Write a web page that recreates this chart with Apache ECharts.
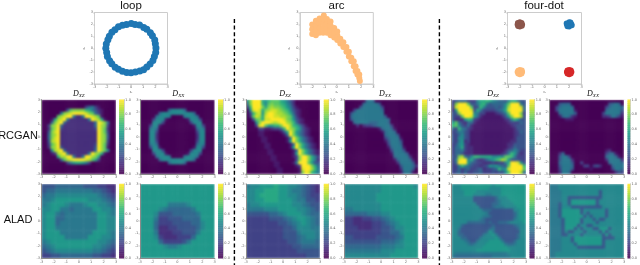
<!DOCTYPE html>
<html><head><meta charset="utf-8">
<style>html,body{margin:0;padding:0;background:#fff}#c{width:640px;height:265px}
#c canvas{filter:blur(0.4px)}#c canvas:first-child{filter:blur(1.1px)}</style>
<script src="https://cdn.jsdelivr.net/npm/echarts@6/dist/echarts.min.js"></script>
</head><body><div id="c"></div>
<script>
// ---- scatter data
const ringPoints=[[2.05,.02],[2.0,.37],[1.95,.7],[1.76,1.04],[1.59,1.3],[1.3,1.6],[1.05,1.75],[.7,1.95],[.34,2.0],[.02,2.08],[-.37,2.0],[-.7,1.92],[-1.03,1.8],[-1.32,1.55],[-1.57,1.34],[-1.78,1.0],[-1.9,.72],[-2.03,.35],[-2.07,0],[-2.0,-.36],[-1.94,-.7],[-1.76,-1.04],[-1.58,-1.3],[-1.3,-1.59],[-1.03,-1.76],[-.7,-1.94],[-.35,-2.03],[0,-2.05],[.36,-2.0],[.72,-1.9],[1.03,-1.8],[1.3,-1.58],[1.57,-1.32],[1.8,-1.02],[1.92,-.7],[2.03,-.36]];
const arcPoints=[[-2,1.2],[-2,1.6],[-2,2],[-1.7,1.1],[-1.7,1.5],[-1.7,1.9],[-1.7,2.3],[-1.4,1.3],[-1.4,1.7],[-1.4,2.1],[-1.4,2.5],[-1.1,1.3],[-1.1,1.7],[-1.1,2.1],[-1.1,2.5],[-1.05,2.75],[-.8,1.3],[-.8,1.7],[-.8,2.1],[-.8,2.45],[-.5,1.1],[-.5,1.5],[-.5,1.9],[-.5,2.25],[-.2,.9],[-.2,1.3],[-.2,1.7],[.05,.7],[.05,1.1],[.05,1.4],[.3,.4],[.3,.8],[.55,.1],[.55,.5],[.8,-.3],[.8,.1],[1,-.7],[1,-.3],[1.2,-1.1],[1.2,-.8],[1.4,-1.5],[1.4,-1.1],[1.55,-1.9],[1.55,-1.5],[1.7,-2.2],[1.7,-1.9],[1.85,-2.5],[1.85,-2.2],[1.9,-2.75]];
const dotBlue=[[2,2],[1.8,2],[2.2,2.02],[2,1.8],[2,2.2],[1.78,2.1],[2.22,1.9],[1.85,1.82],[2.12,2.18]];
const dotBrown=[[-2,2],[-2.2,2],[-1.8,2],[-2,2.2],[-2,1.8],[-2.17,2.14],[-1.83,1.86],[-2.15,1.85],[-1.85,2.15]];
const dotPeach=[[-2,-2],[-2.2,-2],[-1.8,-2],[-2,-2.2],[-2,-1.8],[-2.14,-2.14],[-1.83,-1.85],[-2.14,-1.86],[-1.85,-2.15]];
const dotRed=[[2,-2],[1.8,-2],[2.2,-2],[2,-2.2],[2,-1.8],[1.85,-2.15],[2.15,-1.85],[1.85,-1.85],[2.14,-2.15]];

// ---- heat maps: hex digits = level/15, top row is y=+3
const loopRcganXZ=["000000000000000000000000","000000000000000000000000","000000000000003563100000","000000004bcccca964210000","0000006cdeffffecb5310000","00000bdeff6226ffedb10000","00019def62222226fed91000","0005cef52222222225fec500","003cdf522222222225fdc300","002bdf322222222223fdb200","004cef222222222222fdb300","005cdf222222222222fdc400","005cef222222222222fdc400","004def222222222222fdc300","003bdf222222222223fdb200","002cdf422222222224fdb100","0007def52222222225fdb600","00013def62222226fdc91000","000009ddff6226ffdc900000","0000005bdeffffedb9300000","000000003689986300000000","000000000000000000000000","000000000000000000000000","000000000000000000000000"];
const loopRcganXX=["000000000000000000000000","000000000000000000000000","000000000000000000000000","000000000577775000000000","000000577777777775000000","000005777600006777500000","000037771000000177730000","000077730000000037770000","000377100000000001773000","000675000000000000576000","000773000000000000377000","000772000000000000277000","000772000000000000277000","000773000000000000377000","000675000000000000576000","000377100000000001773000","000077730000000037770000","000037771000000177730000","000005777600006777500000","000000577777777775000000","000000000577775000000000","000000000000000000000000","000000000000000000000000","000000000000000000000000"];
const arcRcganXZ=["7cfff98abbb9864200000000","5cfffa7bcbba975200000000","2afffc9cdccba86310000000","07efe9cdeedcba7421000000","03ade8dffeddcb9521000000","02bed9effeeddcb731000000","004bc9eeffffecb842100000","0007cfffedeffdca52100000","0003efb88aacffda96310000","000033112335afdca8421000","00001100000149fc86421000","00001100000015fc96421000","000001100000016fc9642100","000001100000018fc9642100","000000110000001 5fc964210".replace(" ",""),"000000110000 0018fc964210".replace(" ",""),"00000001100000015fc96421","00000001100000018fc96421","00000000110000013cffc963","00000000110000003cffc962","00000000011000016fffb84".padEnd(24,"4"),"000000000110000013fffc95","000000000011000001effda6","000000000011000001cfea86"];
const arcRcganXX=["000000056500000000000000","000000566664000000000000","000004666666300000000000","000366666666500000000000","004666666666600000000000","005666666666640000000000","004666666666665000000000","000566665556665000000000","000020233456666300000000","000000000001566510000000","000000000000156650000000","000000000000056664000000","000000000000035666100000","000000000000014666400000","000000000000003666500000","000000000000001566610000","000000000000000366640000","000000000000000166664000","000000000000000056666200","000000000000000015666510","000000000000000002666640","000000000000000000466652","000000000000000000266640","000000000000000000156510"];
const fourRcganXZ=["34555333799a976554799644","3cfffb4469a6455557bfff64","3effffb34a74445458dfffe5","28ffffe49633334569effff5","44cffff76331112346bfffc3","433bffe852111111248cffd4","42228a93211111111237a844","8b5325521111111111233354","ab7435211111111111123444","53a653211111111111112444","346643111111111111112354","435743111111111111112344","437743111111111111112444","436823111111111111122444","347832111111111111224444","356932211111111111235444","355632211111111112457533","3554222111111111236a8423","44cd647aa99997787bba6333","36eff795323578abdc844433","35fff85433222323369ffe84","336a75433234878654bffffa","335345334523345a78effffb","345353344533343447bfffd5"];
const fourRcganXX=["000000000000000000000000","000455500000000000045650","003566650000000000356665","003666661000000000566664","000566664000000003666662","000156521000000002236531","000001110000000000000000","000000000000000000000000","000000000000000000000000","000000000000000000000000","000000000000000000000000","000000000000000000000000","000000000000000000000000","000000000000000000000000","000000000000000000000000","000000000000000000000000","000000000000000000120000","000250000000000000355100","000466300000000000566510","000466620000000000266662","000566640030000000056665","000466650003303420005666","000366640000010000003665","000266500000000000000243"];
const loopAladXZ=["4445555554443322","4556666666655432","5667777777776543","6678888888777654","6788876667887765","7788665666688776","7886566666668876","7885566666668877","7885666666668877","7886666666668877","7888666666688876","7888866666888776","6788888888887765","5678888888877654","4567777777766543","3344555555544332"];
const loopAladXX=["8888888888888888","8888888888888888","8888888888888888","8888888888888888","8888886666788888","8888765555568888","8887444555556888","8886334445555888","8885333444455788","8885223344445788","8886222334446888","8887322233358888","8888533334688888","8888876678888888","8888888888888888","8888888888888888"];
const arcAladXZ=["6778889887765432","7788999887665432","7789999887765433","7788999888766443","6778888888776544","6666777888877654","4444455678887655","3333344456788765","3333333445678765","3333333344577766","3333333344467776","3333333344456776","3333333334456665","3333333333445555","3333333333344444","3333333333333444"];
const arcAladXX=["7777777788888887","7777777788888888","7777777888888888","7777777888888888","7777777788888888","6677777788888888","5555566677888888","3322334456788888","3322223345678888","3332223344577888","3333333344557888","4433333444456888","4444444455567888","5555555566677888","6666666677788888","7777777777888888"];
const fourAladXZ=["777888888888878888888888","777888888888777788888888","777788887777777788888888","777788877776677788888888","777777744444445777888888","777777744444445677788888","777777774444455677778888","777777777444456667777888","777777777755544444447788","777777777776444444445788","777777777766544444445788","777777777654444444446788","777775555554544555677778","777544444444454444445677","776444444444564444444577","775444444445864444444477","775544444467786444444577","777554444677778644444577","777765446777888864445777","777776567778888886556777","777777777788888888777777","777777778888888888877777","766666666666666666777777","655555555555566666677777"];
const fourAladXX=["666777777777777777777777","666777777777777777777777","666677777777777747777777","666677777777777747777777","666677444444444447777777","666677488888888477777777","666477488888888477777777","666477744444444447777777","666488888847777777477777","666488888847477777477777","666488888884747777477777","666648888847774744777777","666648888847777477777777","666648888477447777777777","666648884747774488847777","666647447774777748477777","666644777747777774847777","666677748888888884444777","666677748888888884777777","666677774888888884777777","666677777444444444777777","666677777777777777777777","667777777777777777777777","667777777777777777777777"];

const viridis=['#440154','#482878','#3e4989','#31688e','#26828e','#1f9e89','#35b779','#6ece58','#b5de2b','#fde725'];
const panelNames=['loop','arc','four-dot'];
const rowNames=['RCGAN','ALAD'];

// ---- layout
const colX=[[41.5,74.5,119.3],[140,74.7,218.3],[246,74,324],[344,74.3,422.3],[451.7,74.3,529.7],[549.3,74.7,627.7]];
const rowY=[[99.7,74.3],[184,74.3]];
const maps=[[loopRcganXZ,loopRcganXX,arcRcganXZ,arcRcganXX,fourRcganXZ,fourRcganXX],[loopAladXZ,loopAladXX,arcAladXZ,arcAladXX,fourAladXZ,fourAladXX]];

const grid=[],xAxis=[],yAxis=[],series=[],mapSeries=[];
const tinyLabel={fontSize:3.5,color:'#666',margin:1.5,hideOverlap:false,showMinLabel:true,showMaxLabel:true,fontFamily:'DejaVu Sans'};
function valueAxes(g,color,withNames){
  const line={onZero:false,lineStyle:{color,width:1}};
  const tick={length:1.5,lineStyle:{color:'#999',width:.4}};
  xAxis.push({gridIndex:g,zlevel:1,type:'value',position:'bottom',min:-3,max:3,interval:1,axisLine:line,axisTick:tick,splitLine:{show:false},axisLabel:tinyLabel,
    name:withNames?'x\u2081':'',nameLocation:'middle',nameGap:5,nameTextStyle:{fontSize:3,color:'#666'}});
  yAxis.push({gridIndex:g,zlevel:1,type:'value',position:'left',min:-3,max:3,interval:1,axisLine:line,axisTick:tick,splitLine:{show:false},axisLabel:tinyLabel,
    name:withNames?'x\u2082':'',nameLocation:'middle',nameGap:7,nameTextStyle:{fontSize:3,color:'#666'}});
  return xAxis.length-1;
}
function addScatter(left,top,w,h,sets){
  const g=grid.length;
  grid.push({left,top,width:w,height:h,show:true,borderColor:'#ccc',borderWidth:1,backgroundColor:'transparent',zlevel:1});
  const a=valueAxes(g,'#d0d0d0',true);
  sets.forEach(s=>series.push({type:'scatter',zlevel:1,xAxisIndex:a,yAxisIndex:a,data:s.data,symbolSize:s.size,itemStyle:{color:s.color,opacity:1},silent:true,animation:false}));
}
function addHeat(left,top,w,h,rows){
  const g=grid.length;
  grid.push({left,top,width:w,height:h});
  const n=rows[0].length, data=[];
  rows.forEach((r,j)=>{for(let i=0;i<n;i++)data.push([i,j,parseInt(r[i],16)/15]);});
  const idx=[...Array(n).keys()], jdx=[...Array(rows.length).keys()];
  const ax=xAxis.length;
  xAxis.push({gridIndex:g,type:'category',data:idx,show:false,position:'top'});
  yAxis.push({gridIndex:g,type:'category',data:jdx,show:false,inverse:true,position:'right'});
  valueAxes(g,'#8a8a8a',false);
  mapSeries.push(series.length);
  series.push({type:'heatmap',zlevel:0,xAxisIndex:ax,yAxisIndex:ax,data,silent:true,animation:false,progressive:0});
}
function addBar(left,top,h){
  const g=grid.length, levels=[...Array(40).keys()].reverse();
  grid.push({left,top,width:4.5,height:h,zlevel:1});
  const ax=xAxis.length, data=levels.map((l,j)=>[0,j,l/39]);
  xAxis.push({gridIndex:g,zlevel:1,type:'category',data:[0],show:false});
  yAxis.push({gridIndex:g,zlevel:1,type:'category',data:levels.map((l,j)=>j),show:false,inverse:true,position:'left'});
  xAxis.push({gridIndex:g,zlevel:1,type:'value',show:false,position:'top',min:0,max:1});
  yAxis.push({gridIndex:g,zlevel:1,type:'value',position:'right',min:0,max:1,interval:.2,axisLine:{onZero:false,lineStyle:{color:'#aaa',width:.5}},axisTick:{length:1,lineStyle:{color:'#999',width:.4}},splitLine:{show:false},
    axisLabel:Object.assign({},tinyLabel,{formatter:v=>v.toFixed(1)})});
  mapSeries.push(series.length);
  series.push({type:'heatmap',zlevel:1,xAxisIndex:ax,yAxisIndex:ax,data,silent:true,animation:false,progressive:0,itemStyle:{opacity:.85}});
}
addScatter(94.5,12.5,73,71.5,[{data:ringPoints,color:'#1f77b4',size:7}]);
addScatter(300,12.5,73.3,71.5,[{data:arcPoints,color:'#ffbb78',size:6}]);
addScatter(507.5,12.5,74,71.5,[{data:dotBlue,color:'#1f77b4',size:5.5},{data:dotBrown,color:'#8c564b',size:5.5},{data:dotPeach,color:'#ffbb78',size:5.5},{data:dotRed,color:'#d62728',size:5.5}]);
rowY.forEach((ry,ri)=>colX.forEach((c,ci)=>{addHeat(c[0],ry[0],c[1],ry[1],maps[ri][ci]);addBar(c[2],ry[0],ry[1]);}));

// ---- text, dividers, and white strips that trim the softened heat maps at their frames
const graphic=[];
function strip(x,y,width,height){graphic.push({type:'rect',silent:true,zlevel:1,z:-5,shape:{x,y,width,height},style:{fill:'#fff'}});}
strip(0,88,640,11.7);strip(0,174,640,10);strip(0,258.3,640,7);
rowY.forEach(ry=>{
  let prev=0;
  colX.forEach(c=>{strip(prev,ry[0],c[0]-prev,ry[1]);prev=c[0]+c[1];});
  strip(prev,ry[0],640-prev,ry[1]);
});
function label(text,x,y,size){graphic.push({type:'text',silent:true,zlevel:1,style:{text,x,y,fill:'#111',font:size+'px "Liberation Sans"',textAlign:'center',textVerticalAlign:'middle'}});}
label(panelNames[0],131,6,11.5);label(panelNames[1],336.5,6,11.5);label(panelNames[2],544,6,11.5);
label(rowNames[0],18,136,11);label(rowNames[1],18,220,11);
[[78.7,'XZ'],[178.3,'XX'],[285,'XZ'],[385,'XX'],[493,'XZ'],[593,'XX']].forEach(([x,s])=>{
  graphic.push({type:'text',silent:true,zlevel:1,style:{text:'{d|D}{s|'+s+'}',x,y:94,textAlign:'center',textVerticalAlign:'middle',
    rich:{d:{font:'italic 8px "Liberation Serif"',fill:'#111'},s:{font:'italic 5px "Liberation Serif"',fill:'#111',padding:[3,0,0,0]}}}});
});
[234.4,439.4].forEach(x=>graphic.push({type:'line',silent:true,zlevel:1,shape:{x1:x,y1:19,x2:x,y2:265},style:{stroke:'#000',lineWidth:1.4,lineDash:[4,2.6]}}));

const chart=echarts.init(document.getElementById('c'),null,{renderer:'canvas'});
chart.setOption({animation:false,grid,xAxis,yAxis,series,graphic,
  visualMap:{show:false,type:'continuous',min:0,max:1,dimension:2,seriesIndex:mapSeries,inRange:{color:viridis}}});
</script></body></html>
